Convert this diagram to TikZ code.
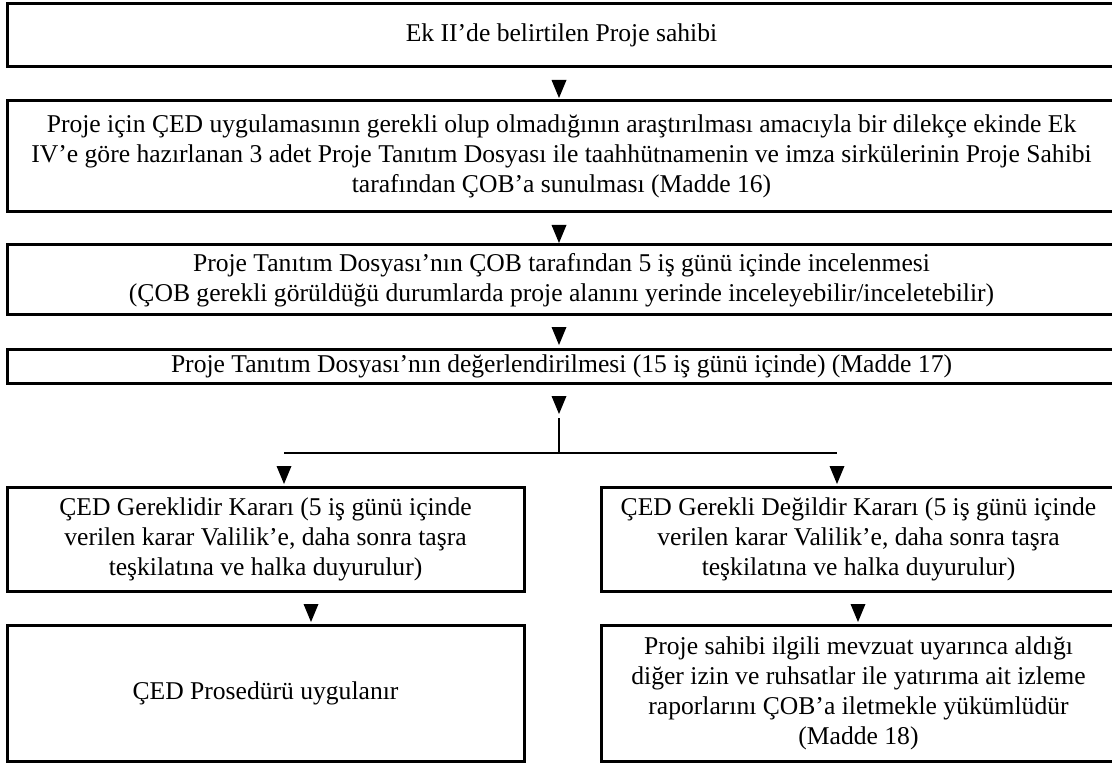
\documentclass[tikz,border=0pt]{standalone}
\usepackage{fontspec}
\setmainfont{Liberation Serif}
\usetikzlibrary{shapes.geometric}

\begin{document}
\begin{tikzpicture}[x=0.5pt,y=-0.5pt,
    font=\fontsize{12.8}{15}\selectfont,
    box/.style={draw,line width=1.5pt,align=center,inner sep=0pt},
    tri/.style={isosceles triangle,isosceles triangle stretches,fill,inner sep=0pt,
      shape border rotate=-90,minimum width=7.5pt,minimum height=9pt}]
                \useasboundingbox (0,0) rectangle (1112,764);

                \path (561.5,35.5) node[box,minimum width=554.5pt,minimum height=31.5pt] (ekII)
                  {Ek II’de belirtilen Proje sahibi};
                \path (561.5,156.5) node[box,minimum width=554.5pt,minimum height=55.5pt] (basvuru)
                  {Proje için ÇED uygulamasının gerekli olup olmadığının araştırılması amacıyla bir dilekçe ekinde Ek\\
                   IV’e göre hazırlanan 3 adet Proje Tanıtım Dosyası ile taahhütnamenin ve imza sirkülerinin Proje Sahibi\\
                   tarafından ÇOB’a sunulması (Madde 16)};
                \path (561.5,280) node[box,minimum width=554.5pt,minimum height=35pt] (inceleme)
                  {Proje Tanıtım Dosyası’nın ÇOB tarafından 5 iş günü içinde incelenmesi\\
                   (ÇOB gerekli görüldüğü durumlarda proje alanını yerinde inceleyebilir/inceletebilir)};
                \path (561.5,366) node[box,minimum width=554.5pt,minimum height=17pt] (degerlendirme)
                  {Proje Tanıtım Dosyası’nın değerlendirilmesi (15 iş günü içinde) (Madde 17)};

                \path (265.5,539) node[box,minimum width=258.5pt,minimum height=52pt] (gerekli)
                  {ÇED Gereklidir Kararı (5 iş günü içinde\\
                   verilen karar Valilik’e, daha sonra taşra\\
                   teşkilatına ve halka duyurulur)};
                \path (858.5,539) node[box,minimum width=257.5pt,minimum height=52pt] (gereksiz)
                  {ÇED Gerekli Değildir Kararı (5 iş günü içinde\\
                   verilen karar Valilik’e, daha sonra taşra\\
                   teşkilatına ve halka duyurulur)};
                \path (265.5,693) node[box,minimum width=258.5pt,minimum height=68pt] (prosedur)
                  {ÇED Prosedürü uygulanır};
                \path (858.5,693) node[box,minimum width=257.5pt,minimum height=68pt] (yukumluluk)
                  {Proje sahibi ilgili mevzuat uyarınca aldığı\\
                   diğer izin ve ruhsatlar ile yatırıma ait izleme\\
                   raporlarını ÇOB’a iletmekle yükümlüdür\\
                   (Madde 18)};

                % oklar
                \path (559,85) node[tri] (ok1) {};
                \path (559,230) node[tri] (ok2) {};
                \path (559,332) node[tri] (ok3) {};
                \path (559,401) node[tri] (ok4) {};
                \path (284,471) node[tri] (ok5) {};
                \path (837,471) node[tri] (ok6) {};
                \path (311,609) node[tri] (ok7) {};
                \path (858,609) node[tri] (ok8) {};

                \coordinate (kok) at (559,418);
                \coordinate (dal) at (559,453);
                \coordinate (sol) at (284,453);
                \coordinate (sag) at (837,453);
                \draw[line width=1.2pt] (kok) -- (dal);
                \draw[line width=1.2pt] (sol) -- (sag);
              \end{tikzpicture}
\end{document}
